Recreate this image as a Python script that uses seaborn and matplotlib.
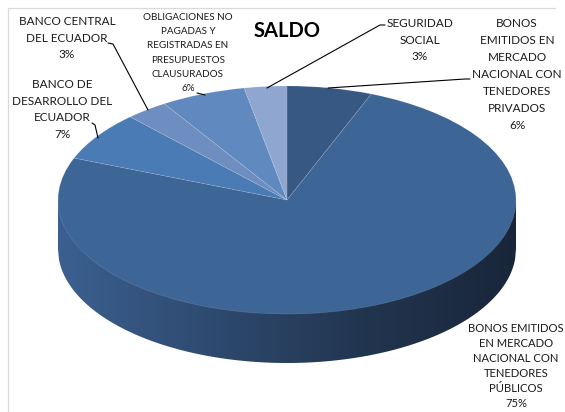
import numpy as np
import matplotlib
matplotlib.use("Agg")
import matplotlib.pyplot as plt
from matplotlib.lines import Line2D
from matplotlib.patches import Polygon
import seaborn as sns

# Slices in clockwise order, starting at twelve o'clock
categories = [
    "BONOS\nEMITIDOS EN\nMERCADO\nNACIONAL CON\nTENEDORES\nPRIVADOS",
    "BONOS EMITIDOS\nEN MERCADO\nNACIONAL CON\nTENEDORES\nPÚBLICOS",
    "BANCO DE\nDESARROLLO DEL\nECUADOR",
    "BANCO CENTRAL\nDEL ECUADOR",
    "OBLIGACIONES NO\nPAGADAS Y\nREGISTRADAS EN\nPRESUPUESTOS\nCLAUSURADOS",
    "SEGURIDAD\nSOCIAL",
]
shares = [6, 75, 7, 3, 6, 3]
title = "SALDO"

sns.set_theme(style="white")
plt.rcParams["font.family"] = ["Lato", "DejaVu Sans"]

W, H = 565, 412
fig = plt.figure(figsize=(W / 100, H / 100), dpi=100)
ax = fig.add_axes([0, 0, 1, 1])

# ellipse geometry of the tilted disc (pixels)
CX, CY, RX, RY = 287, 200, 229, 114
DEPTH = 49 / RY

slice_colors = ["#365883", "#3D6596", "#4A7BB4", "#6E8EC1", "#6089C0", "#8FA7D0"]

# front wall of the disc with a left-to-right shading
xs = np.linspace(-1, 1, 500)
lower = -np.sqrt(1 - xs ** 2) - DEPTH
verts = list(zip(xs, lower)) + [(1, 0), (-1, 0)]
wall = Polygon(verts, closed=True, facecolor="none", edgecolor="none")
ax.add_patch(wall)
shade = sns.blend_palette(["#3B6090", "#2E4A70", "#22354F", "#19263A"], as_cmap=True)
im = ax.imshow(np.linspace(0, 1, 256)[None, :], extent=(-1, 1, -1 - DEPTH - 0.05, 0.05),
               aspect="auto", cmap=shade, origin="lower", zorder=1)
im.set_clip_path(wall)

# top face
ax.pie(shares, colors=slice_colors, startangle=90, counterclock=False, radius=1,
       wedgeprops=dict(edgecolor=(1, 1, 1, 0.15), linewidth=0.5, zorder=2))

ax.set_xlim((0 - CX) / RX, (W - CX) / RX)
ax.set_ylim((CY - H) / RY, CY / RY)
ax.set_aspect("auto")
ax.axis("off")

# chart frame
frame = "#D9D9D9"
fig.add_artist(Line2D([8 / W, 555 / W], [1 - 8 / H, 1 - 8 / H], transform=fig.transFigure,
                      color=frame, lw=0.9))
fig.add_artist(Line2D([8 / W, 8 / W], [1 - 8 / H, 0], transform=fig.transFigure,
                      color=frame, lw=0.9))

fig.text(287 / W, 1 - 31 / H, title, ha="center", va="center", fontsize=14.5,
         fontweight="bold", color="black")

# data labels: (x, y, fontsize, linespacing) in pixels
label_layout = [
    (517, 74.5, 8.5, 1.66),
    (516, 366, 8.1, 1.43),
    (62, 109.5, 8.5, 1.66),
    (67, 38, 8.5, 1.66),
    (188, 53, 7.1, 1.75),
    (420, 40, 8.5, 1.66),
]
for name, share, (lx, ly, fs, ls) in zip(categories, shares, label_layout):
    fig.text(lx / W, 1 - ly / H, f"{name}\n{share}%", ha="center", va="center",
             fontsize=fs, linespacing=ls, color="#1a1a1a")

# leader lines (pixels)
leaders = [
    [(470, 79), (465, 79), (328, 88)],
    [(108, 43), (113, 44), (148, 110)],
    [(92, 123), (95, 125), (98, 138)],
    [(197, 93), (205, 95)],
    [(385, 25), (380, 25), (267, 88)],
]
for pts in leaders:
    px = [p[0] / W for p in pts]
    py = [1 - p[1] / H for p in pts]
    fig.add_artist(Line2D(px, py, transform=fig.transFigure, color="black", lw=0.8))

fig.savefig("out.png", dpi=100)
